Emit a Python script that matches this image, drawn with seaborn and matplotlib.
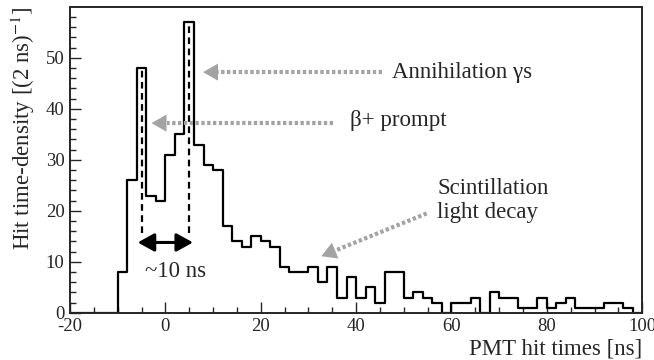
import numpy as np
import pandas as pd
import matplotlib
matplotlib.use('Agg')
import matplotlib.pyplot as plt
import seaborn as sns

# histogram: 2 ns bins from -20 to 100 ns
bin_edges = list(range(-20, 101, 2))
hit_counts = [0, 0, 0, 0, 0,
              8, 26, 48, 23, 22, 31, 35, 57, 33, 29,
              28, 17, 14, 13, 15, 14, 13, 9, 8, 8,
              9, 6, 9, 3, 7, 3, 5, 2, 8, 8,
              3, 4, 3, 2, 0, 2, 2, 3, 0, 4,
              3, 3, 1, 1, 3, 1, 2, 3, 1, 1,
              1, 2, 2, 1, 0]

# peak positions marked with dashed lines
peak_times = [-5, 5]
dash_bottom = 15.6
arrow_y = 13.8

x_ticks = [-20, 0, 20, 40, 60, 80, 100]
y_ticks = [0, 10, 20, 30, 40, 50]

df = pd.DataFrame({'t': [e + 1 for e in bin_edges[:-1]], 'n': hit_counts})

sns.set_style('ticks')
plt.rcParams['font.family'] = ['Liberation Serif', 'DejaVu Serif']
plt.rcParams['mathtext.fontset'] = 'stix'
plt.rcParams['axes.unicode_minus'] = False

fig = plt.figure(figsize=(6.54, 3.6), dpi=100)
ax = fig.add_axes([0.107, 0.131, 0.875, 0.85])

sns.histplot(data=df, x='t', weights='n', bins=bin_edges, element='step',
             fill=False, color='black', linewidth=1.6, ax=ax)

ax.set_xlim(-20, 100)
ax.set_ylim(0, 60)

# dashed markers on the two spikes
for t in peak_times:
    top = hit_counts[int((t - bin_edges[0]) // 2)]
    ax.plot([t, t], [dash_bottom, top], color='black', lw=1.6, ls=(0, (3, 2)))

# ~10 ns double arrow
ax.annotate('', xy=(peak_times[1] + 0.8, arrow_y), xytext=(peak_times[0] - 0.8, arrow_y),
            arrowprops=dict(arrowstyle='<|-|>,head_length=1.0,head_width=0.55',
                            lw=2.2, color='black', mutation_scale=10,
                            shrinkA=0, shrinkB=0))
ax.text(2.2, 8.1, '~10 ns', ha='center', va='center', fontsize=16.5)

grey = '#a3a3a3'
def grey_arrow(tip, tail, head_px=15):
    # dotted shaft plus a solid triangular head
    p_tip = ax.transData.transform(tip)
    p_tail = ax.transData.transform(tail)
    u = (p_tail - p_tip) / np.hypot(*(p_tail - p_tip))
    base = ax.transData.inverted().transform(p_tip + u * head_px)
    ax.plot([tail[0], base[0]], [tail[1], base[1]], color=grey, lw=3,
            ls=(0, (0.8, 0.6)), solid_capstyle='butt', dash_capstyle='butt')
    ax.annotate('', xy=tip, xytext=base,
                arrowprops=dict(arrowstyle='-|>,head_length=1.0,head_width=0.57',
                                lw=0, color=grey, mutation_scale=head_px * 0.72,
                                shrinkA=0, shrinkB=0))

grey_arrow((7.9, 47.2), (45.5, 47.2))
ax.text(47.5, 47.2, 'Annihilation γs', ha='left', va='center', fontsize=16.5)

grey_arrow((-2.9, 37.2), (35.2, 37.2))
ax.text(38.7, 37.8, 'β+ prompt', ha='left', va='center', fontsize=16.5)

grey_arrow((32.7, 11.1), (54.8, 19.5))
ax.text(57.0, 22.0, 'Scintillation\nlight decay', ha='left', va='center',
        fontsize=16.5, linespacing=1.15)

ax.set_xticks(x_ticks)
ax.set_yticks(y_ticks)
ax.set_xticks(np.arange(-20, 101, 5), minor=True)
ax.set_yticks(np.arange(0, 60, 2), minor=True)
ax.tick_params(which='both', direction='in', top=False, right=False,
               labelsize=13.5, width=1, pad=4)
ax.tick_params(which='major', length=8)
ax.tick_params(which='minor', length=4)
for s in ax.spines.values():
    s.set_visible(True)
    s.set_linewidth(1.4)

ax.set_xlabel('PMT hit times [ns]', fontsize=16.5, loc='right', labelpad=2)
ax.set_ylabel(r'Hit time-density [(2 ns)$^{-1}$]', fontsize=16.5, loc='top', labelpad=6)

fig.savefig('out.png', dpi=100)
